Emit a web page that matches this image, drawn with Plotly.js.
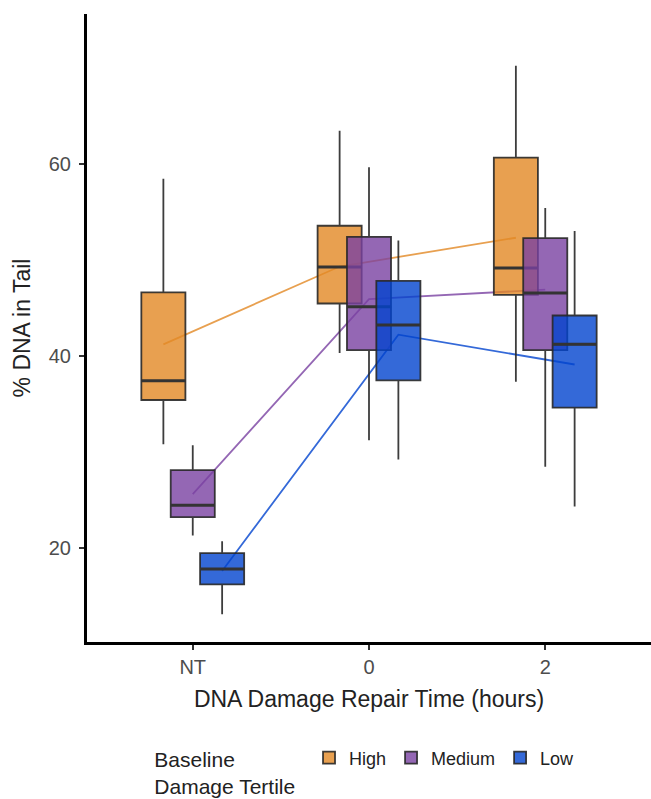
<!DOCTYPE html>
<html><head><meta charset="utf-8">
<script src="https://cdn.plot.ly/plotly-3.0.1.min.js"></script>
<style>html,body{margin:0;padding:0;background:#fff}#chart{width:651px;height:799px}</style>
</head><body><div id="chart"></div>
<script>
// Categories
const timeLabels = ['NT', '0', '2'];
const timeIndex = [1, 2, 3];
const tertiles = ['High', 'Medium', 'Low'];

// High tertile box stats
const highLower  = [30.8, 40.3, 37.3];
const highQ1     = [35.4, 45.45, 46.35];
const highMedian = [37.4, 49.25, 49.15];
const highQ3     = [46.6, 53.55, 60.65];
const highUpper  = [58.45, 63.45, 70.2];
const highMean   = [41.2, 49.3, 52.3];

// Medium tertile box stats
const medLower  = [21.3, 31.2, 28.45];
const medQ1     = [23.2, 40.6, 40.6];
const medMedian = [24.45, 45.1, 46.55];
const medQ3     = [28.1, 52.4, 52.25];
const medUpper  = [30.7, 59.65, 55.4];
const medMean   = [25.6, 45.9, 46.9];

// Low tertile box stats
const lowLower  = [13.1, 29.2, 24.3];
const lowQ1     = [16.2, 37.45, 34.6];
const lowMedian = [17.8, 43.2, 41.2];
const lowQ3     = [19.45, 47.8, 44.2];
const lowUpper  = [20.7, 52.0, 53.0];
const lowMean   = [17.6, 42.2, 39.1];

const lineColors = ['#E8A050', '#9467B4', '#3469D8'];
const fillColors = ['rgba(226,136,36,0.8)', 'rgba(121,65,161,0.8)', 'rgba(1,68,206,0.8)'];
const dodge = [-1/6, 0, 1/6];
const boxWidth = 0.25;

const groups = [
  {lo: highLower, q1: highQ1, md: highMedian, q3: highQ3, up: highUpper, mean: highMean},
  {lo: medLower, q1: medQ1, md: medMedian, q3: medQ3, up: medUpper, mean: medMean},
  {lo: lowLower, q1: lowQ1, md: lowMedian, q3: lowQ3, up: lowUpper, mean: lowMean}
];

const lineTraces = [];
const boxTraces = [];
groups.forEach((g, i) => {
  const xs = timeIndex.map(v => v + dodge[i]);
  lineTraces.push({
    type: 'scatter', mode: 'lines', x: xs, y: g.mean,
    line: {color: lineColors[i], width: 1.8},
    showlegend: false, hoverinfo: 'skip', xaxis: 'x', yaxis: 'y'
  });
  boxTraces.push({
    type: 'box', name: tertiles[i], x: xs,
    lowerfence: g.lo, q1: g.q1, median: g.md, q3: g.q3, upperfence: g.up,
    width: boxWidth, whiskerwidth: 0,
    fillcolor: fillColors[i],
    line: {color: 'rgba(40,40,40,0.9)', width: 1.8},
    xaxis: 'x2', yaxis: 'y2', showlegend: true, legendgroup: tertiles[i]
  });
  // thick median bar
  boxTraces.push({
    type: 'box', name: tertiles[i] + ' median', x: xs,
    lowerfence: g.md, q1: g.md, median: g.md, q3: g.md, upperfence: g.md,
    width: boxWidth, whiskerwidth: 0,
    fillcolor: 'rgba(0,0,0,0)',
    line: {color: '#333333', width: 3},
    xaxis: 'x2', yaxis: 'y2', showlegend: false, hoverinfo: 'skip'
  });
});

const xRange = [0.4, 3.6];
const yRange = [10.2, 75.6];

const layout = {
  width: 651, height: 799,
  margin: {l: 87, r: 0, t: 14, b: 157},
  paper_bgcolor: '#ffffff', plot_bgcolor: '#ffffff',
  font: {family: '"Liberation Sans", Arial, Helvetica, sans-serif', color: '#222222'},
  boxmode: 'overlay',
  xaxis: {
    range: xRange, tickmode: 'array', tickvals: timeIndex, ticktext: timeLabels,
    showline: true, linecolor: '#000000', linewidth: 3, mirror: false,
    ticks: 'outside', ticklen: 5, tickwidth: 2, tickcolor: '#333333',
    tickfont: {size: 20, color: '#4d4d4d'},
    showgrid: false, zeroline: false, fixedrange: true, automargin: false,
    title: {text: 'DNA Damage Repair Time (hours)', font: {size: 23, color: '#222222'}, standoff: 14}
  },
  yaxis: {
    range: yRange, tickmode: 'array', tickvals: [20, 40, 60],
    showline: true, linecolor: '#000000', linewidth: 3,
    ticks: 'outside', ticklen: 5, tickwidth: 2, tickcolor: '#333333',
    tickfont: {size: 20, color: '#4d4d4d'}, ticklabelstandoff: 4,
    showgrid: false, zeroline: false, fixedrange: true, automargin: false,
    title: {text: '% DNA in Tail', font: {size: 23, color: '#222222'}, standoff: 12}
  },
  xaxis2: {overlaying: 'x', range: xRange, visible: false, fixedrange: true},
  yaxis2: {overlaying: 'y', range: yRange, visible: false, fixedrange: true},
  showlegend: true,
  legend: {
    orientation: 'h', xref: 'container', x: 0.234, xanchor: 'left',
    yref: 'container', y: 0.0745, yanchor: 'top',
    traceorder: 'normal',
    title: {text: 'Baseline<br>Damage Tertile\u00A0', side: 'left', font: {size: 21, color: '#222222'}},
    font: {size: 18, color: '#222222'}
  }
};

Plotly.newPlot('chart', lineTraces.concat(boxTraces), layout, {displayModeBar: false, staticPlot: true});
</script>
</body></html>
